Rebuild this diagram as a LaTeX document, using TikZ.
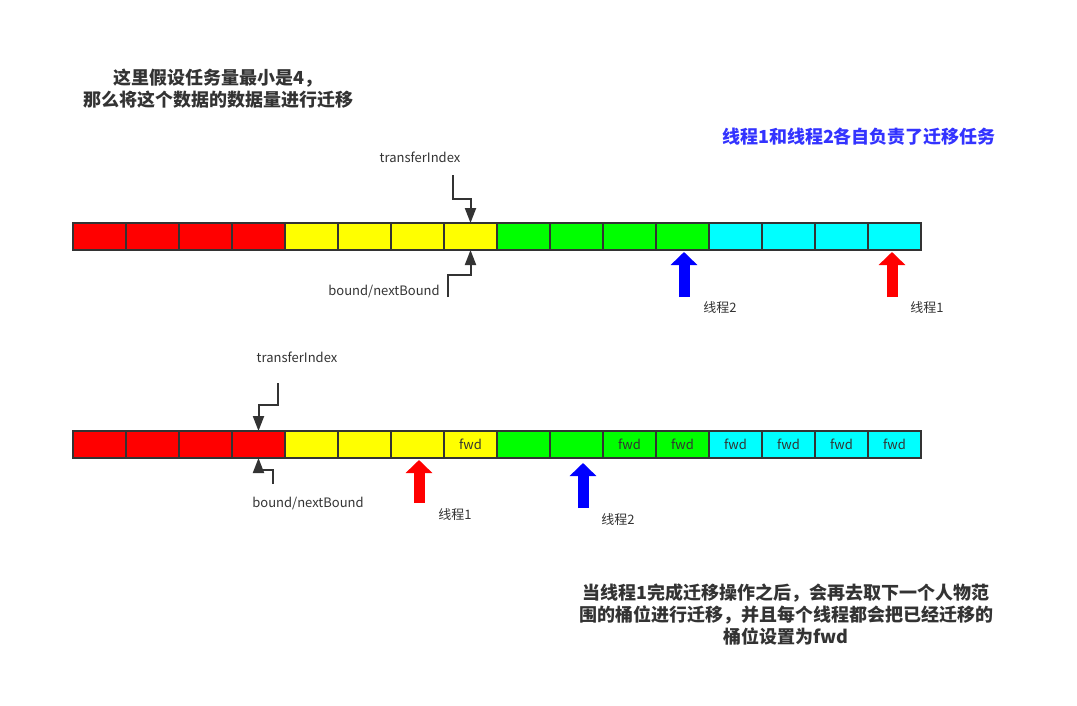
\documentclass[tikz,border=0pt]{standalone}
\usepackage{fontspec}
\setmainfont{Noto Sans CJK SC}
\usetikzlibrary{arrows.meta}
\definecolor{dk}{HTML}{333333}
\definecolor{tblue}{HTML}{3333FF}
\definecolor{cR}{RGB}{255,0,0}
\definecolor{cY}{RGB}{255,255,0}
\definecolor{cG}{RGB}{0,255,0}
\definecolor{cC}{RGB}{0,255,255}
\definecolor{cB}{RGB}{0,0,255}
\begin{document}
\begin{tikzpicture}[x=1pt,y=-1pt,
  cell/.style={draw=dk, line width=2pt, minimum width=53pt, minimum height=27pt, inner sep=0pt, outer sep=0pt, font=\fontsize{13}{15}\selectfont, text=dk},
  lbl/.style={font=\fontsize{13}{15}\selectfont, text=dk, inner sep=0pt},
  title/.style={font=\fontsize{18}{22}\selectfont\bfseries, text=dk, align=center, inner sep=0pt},
  ptr/.style={draw=dk, line width=2pt, -{Triangle[width=11pt,length=15pt]}},
  fat/.style={line width=11pt, -{Triangle[width=26pt,length=13pt]}}]
\useasboundingbox (0,0) rectangle (1077,705);
% top row
\foreach \i/\c in {1/cR,2/cR,3/cR,4/cR,5/cY,6/cY,7/cY,8/cY,9/cG,10/cG,11/cG,12/cG,13/cC,14/cC,15/cC,16/cC}
  \node[cell, fill=\c] (t\i) at ({73+53*(\i-1)+26.5},236.5) {};
% bottom row
\foreach \i/\c/\t in {1/cR/,2/cR/,3/cR/,4/cR/,5/cY/,6/cY/,7/cY/,8/cY/fwd,9/cG/,10/cG/,11/cG/fwd,12/cG/fwd,13/cC/fwd,14/cC/fwd,15/cC/fwd,16/cC/fwd}
  \node[cell, fill=\c] (b\i) at ({73+53*(\i-1)+26.5},444.5) {\t};
% texts
\node[title] (tl) at (218,88.5) {这里假设任务量最小是4，\\那么将这个数据的数据量进行迁移};
\node[title, text=tblue] (tr) at (859,137) {线程1和线程2各自负责了迁移任务};
\node[title] (bt) at (786,614) {当线程1完成迁移操作之后，会再去取下一个人物范\\围的桶位进行迁移，并且每个线程都会把已经迁移的\\桶位设置为fwd};
% labels
\node[lbl] (ti1) at (420,157) {transferIndex};
\node[lbl] (bd1) at (384,291) {bound/nextBound};
\node[lbl] (ti2) at (297,357) {transferIndex};
\node[lbl] (bd2) at (308,503) {bound/nextBound};
\node[lbl] (th2a) at (720,308) {线程2};
\node[lbl] (th1a) at (927,308) {线程1};
\node[lbl] (th1b) at (455,515) {线程1};
\node[lbl] (th2b) at (618,520) {线程2};
% pointer arrows
\coordinate (p1) at (453,175);
\coordinate (p2) at (448,297);
\coordinate (p3) at (278,383);
\coordinate (p4) at (273,484);
\draw[ptr] (p1) -- (453,199) -| (t8.north);
\draw[ptr] (p2) -- (448,275) -| (t8.south);
\draw[ptr] (p3) -- (278,405) -| (b4.north);
\draw[ptr] (p4) -- (273,470) -| (b4.south);
% thread arrows
\coordinate (a1) at (684,297);
\coordinate (a2) at (892,297);
\coordinate (a3) at (419,503);
\coordinate (a4) at (583,508);
\draw[fat, cB] (a1) -- (684,252);
\draw[fat, cR] (a2) -- (892,252);
\draw[fat, cR] (a3) -- (419,460);
\draw[fat, cB] (a4) -- (583,463);
\end{tikzpicture}
\end{document}
